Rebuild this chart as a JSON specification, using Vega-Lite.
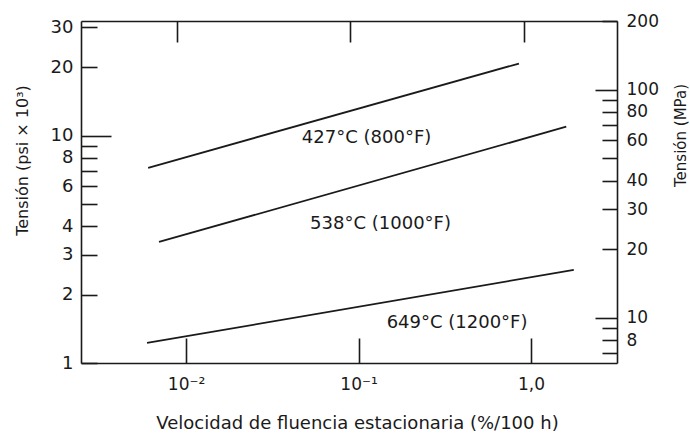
{
  "$schema": "https://vega.github.io/schema/vega-lite/v6.json",
  "width": 536,
  "height": 342,
  "autosize": "none",
  "padding": {"left": 81, "top": 21, "right": 73, "bottom": 73},
  "background": "white",
  "config": {
    "view": {"stroke": null},
    "font": "DejaVu Sans",
    "axis": {
      "grid": false,
      "domainColor": "#1a1a1a",
      "domainWidth": 1.6,
      "tickColor": "#1a1a1a",
      "tickWidth": 1.6,
      "labelColor": "#1a1a1a",
      "titleColor": "#1a1a1a",
      "labelFont": "DejaVu Sans",
      "titleFont": "DejaVu Sans",
      "titleFontWeight": "normal",
      "labelFontSize": 17
    }
  },
  "datasets": {
    "curves": [
      {"serie": "427", "rate": 0.00603, "stress": 7.23},
      {"serie": "427", "rate": 0.851, "stress": 20.8},
      {"serie": "538", "rate": 0.00697, "stress": 3.41},
      {"serie": "538", "rate": 1.60, "stress": 10.96},
      {"serie": "649", "rate": 0.00594, "stress": 1.225},
      {"serie": "649", "rate": 1.77, "stress": 2.57}
    ],
    "labels": [
      {"text": "427°C (800°F)", "rate": 0.1113, "stress": 9.78},
      {"text": "538°C (1000°F)", "rate": 0.1341, "stress": 4.09},
      {"text": "649°C (1200°F)", "rate": 0.3724, "stress": 1.50}
    ]
  },
  "layer": [
    {
      "layer": [
        {
          "data": {"name": "curves"},
          "mark": {"type": "line", "color": "#1a1a1a", "strokeWidth": 1.8, "clip": false},
          "encoding": {
            "x": {
              "field": "rate", "type": "quantitative",
              "scale": {"type": "log", "domain": [0.00246, 3.15], "nice": false},
              "axis": {
                "orient": "bottom",
                "values": [0.01, 0.1, 1],
                "labelExpr": "datum.value == 0.01 ? '10⁻²' : datum.value == 0.1 ? '10⁻¹' : '1,0'",
                "tickSize": -25,
                "labelPadding": 38,
                "labelFontSize": 17,
                "title": "Velocidad de fluencia estacionaria (%/100 h)",
                "titleFontSize": 18,
                "titleX": 276,
                "titleY": 60,
                "titleBaseline": "middle"
              }
            },
            "y": {
              "field": "stress", "type": "quantitative",
              "scale": {"type": "log", "domain": [1, 32], "nice": false},
              "axis": {
                "orient": "left",
                "values": [1, 2, 3, 4, 5, 6, 7, 8, 9, 10, 20, 30],
                "labelExpr": "indexof([5, 7, 9], datum.value) >= 0 ? '' : format(datum.value, 'd')",
                "tickSize": {"condition": {"test": "datum.value == 10", "value": -30}, "value": -16},
                "labelPadding": {"condition": {"test": "datum.value == 10", "value": 38}, "value": 24},
                "labelFontSize": 18,
                "title": "Tensión (psi × 10³)",
                "titleFontSize": 16,
                "titleX": -59,
                "titleY": 139,
                "titleBaseline": "middle"
              }
            },
            "detail": {"field": "serie"}
          }
        },
        {
          "data": {"name": "labels"},
          "mark": {"type": "text", "font": "DejaVu Sans", "fontSize": 18, "color": "#1a1a1a", "align": "center", "baseline": "middle"},
          "encoding": {
            "x": {"field": "rate", "type": "quantitative"},
            "y": {"field": "stress", "type": "quantitative"},
            "text": {"field": "text"}
          }
        }
      ]
    },
    {
      "data": {"name": "curves"},
      "mark": {"type": "line", "opacity": 0, "clip": true},
      "encoding": {
        "x": {
          "field": "rate", "type": "quantitative",
          "scale": {"type": "log", "domain": [0.0028, 3.44], "nice": false},
          "axis": {
            "orient": "top",
            "values": [0.01, 0.1, 1],
            "labels": false,
            "tickSize": -21,
            "title": null
          }
        },
        "y": {
          "field": "stress", "type": "quantitative",
          "scale": {"type": "log", "domain": [6.35, 200], "nice": false},
          "axis": {
            "orient": "right",
            "values": [7, 8, 9, 10, 20, 30, 40, 50, 60, 70, 80, 90, 100, 200],
            "labelExpr": "indexof([7, 9, 50, 70, 90], datum.value) >= 0 ? '' : format(datum.value, 'd')",
            "tickSize": {"condition": {"test": "datum.value == 10 || datum.value == 100", "value": -22}, "value": -15},
            "labelPadding": {"condition": {"test": "datum.value == 10 || datum.value == 100", "value": 31}, "value": 24},
            "labelFontSize": 17,
            "title": "Tensión (MPa)",
            "titleFontSize": 15,
            "titleAngle": 270,
            "titleX": 63,
            "titleY": 114,
            "titleBaseline": "middle"
          }
        },
        "detail": {"field": "serie"}
      }
    }
  ],
  "resolve": {
    "scale": {"x": "independent", "y": "independent"},
    "axis": {"x": "independent", "y": "independent"}
  }
}
